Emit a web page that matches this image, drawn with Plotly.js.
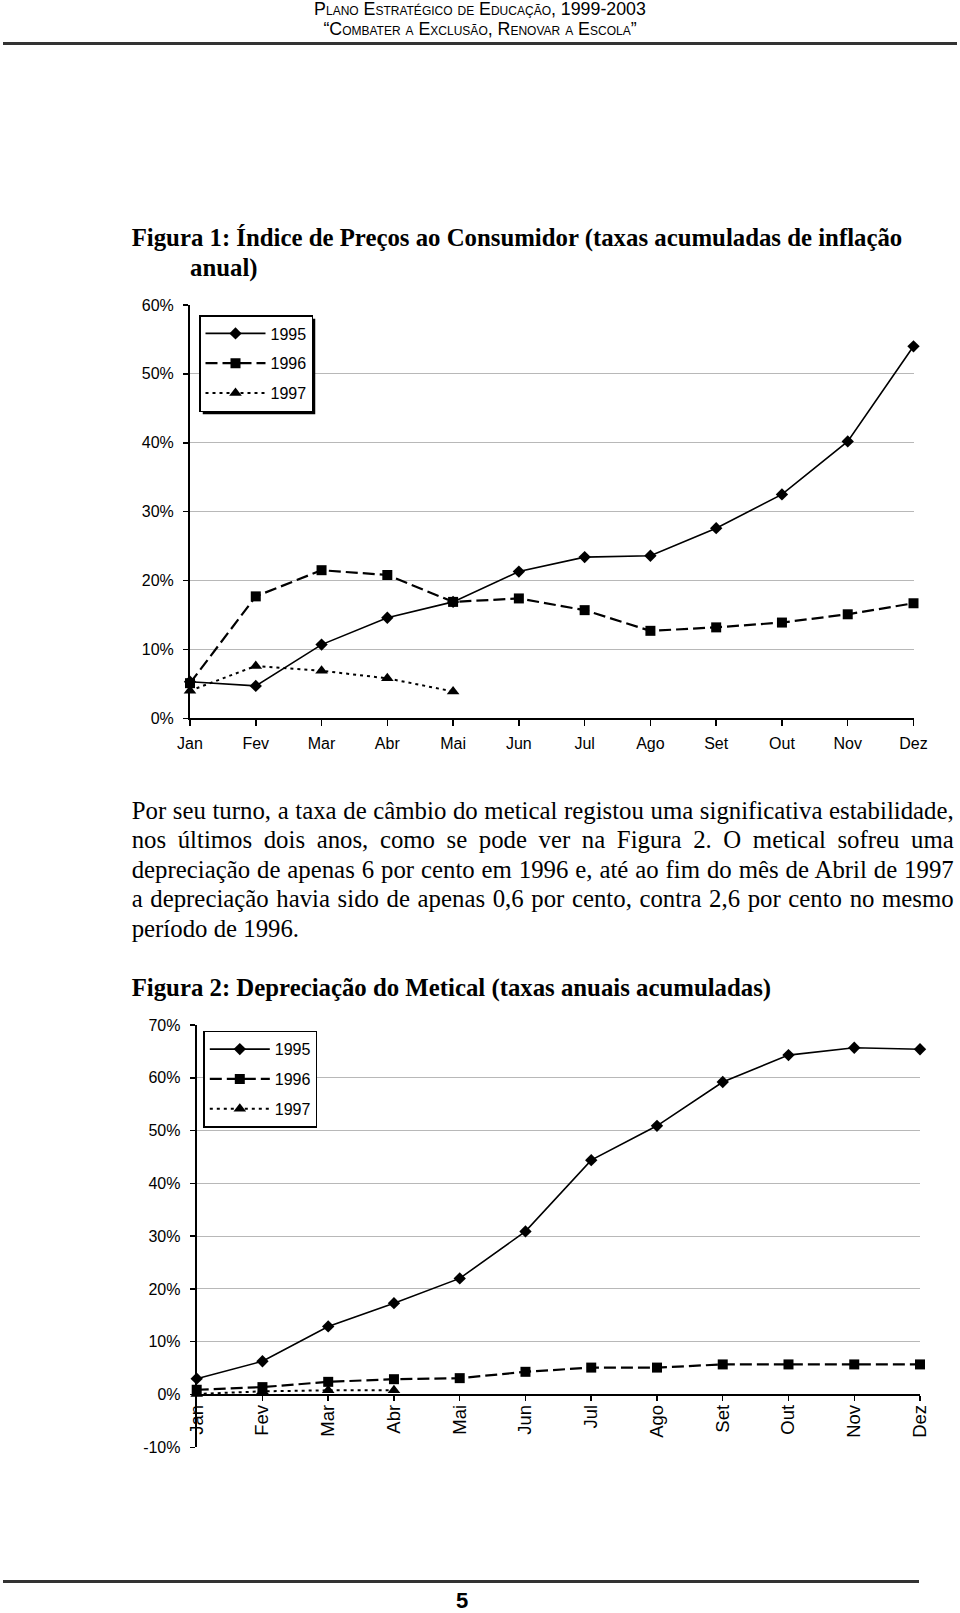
<!DOCTYPE html>
<html>
<head>
<meta charset="utf-8">
<script src="https://cdn.plot.ly/plotly-3.0.1.min.js"></script>
<style>
  html, body { margin:0; padding:0; background:#fff; }
  body { width:960px; height:1613px; position:relative; overflow:hidden; }
  #chart { position:absolute; left:0; top:0; width:960px; height:1613px; }
  .txt { position:absolute; color:#000; white-space:nowrap; }
  .hdr { font-family:"Liberation Sans", Arial, sans-serif; font-variant:small-caps; font-size:17.8px; left:0; width:960px; text-align:center; line-height:19.5px; }
  .serif { font-family:"Liberation Serif", "Times New Roman", serif; font-size:24.8px; line-height:29.6px; }
  .ttl { font-weight:bold; }
  .pline { left:131.7px; width:822px; text-align:justify; text-align-last:justify; white-space:normal; }
  .rule { position:absolute; background:#333; height:2.5px; }
</style>
</head>
<body>
<div id="chart"></div>

<div class="txt hdr" style="top:0px;">Plano Estratégico de Educação, 1999-2003<br>“Combater a Exclusão, Renovar a Escola”</div>
<div class="rule" style="left:3px; width:954px; top:42px;"></div>

<div class="txt serif ttl" style="left:131.7px; top:222.8px;">Figura 1: Índice de Preços ao Consumidor (taxas acumuladas de inflação</div>
<div class="txt serif ttl" style="left:190px; top:252.7px;">anual)</div>

<div class="txt serif pline" style="top:795.9px;">Por seu turno, a taxa de câmbio do metical registou uma significativa estabilidade,</div>
<div class="txt serif pline" style="top:824.7px;">nos últimos dois anos, como se pode ver na Figura 2. O metical sofreu uma</div>
<div class="txt serif pline" style="top:854.5px;">depreciação de apenas 6 por cento em 1996 e, até ao fim do mês de Abril de 1997</div>
<div class="txt serif pline" style="top:884.4px;">a depreciação havia sido de apenas 0,6 por cento, contra 2,6 por cento no mesmo</div>
<div class="txt serif" style="left:131.7px; top:914.2px;">período de 1996.</div>

<div class="txt serif ttl" style="left:131.7px; top:972.9px;">Figura 2: Depreciação do Metical (taxas anuais acumuladas)</div>

<div class="rule" style="left:3px; width:916px; top:1580px;"></div>
<div class="txt" style="left:442px; width:40px; text-align:center; top:1589px; font-family:'Liberation Sans Narrow','Liberation Sans',Arial,sans-serif; font-weight:bold; font-size:22px; line-height:24px;">5</div>

<script>
// ---- Data ----
const months = ["Jan","Fev","Mar","Abr","Mai","Jun","Jul","Ago","Set","Out","Nov","Dez"];
const seriesNames = ["1995","1996","1997"];

// Figura 1: Índice de Preços ao Consumidor (%)
const ipc1995 = [5.3, 4.7, 10.7, 14.6, 16.9, 21.3, 23.4, 23.6, 27.6, 32.5, 40.2, 54.0];
const ipc1996 = [5.1, 17.7, 21.5, 20.8, 16.9, 17.4, 15.7, 12.7, 13.2, 13.9, 15.1, 16.7];
const ipc1997 = [4.0, 7.6, 6.9, 5.8, 3.9];
const ipcTicks = [0, 10, 20, 30, 40, 50, 60];
const ipcTickText = ["0%", "10%", "20%", "30%", "40%", "50%", "60%"];

// Figura 2: Depreciação do Metical (%)
const dep1995 = [3.0, 6.3, 12.9, 17.3, 22.0, 30.9, 44.4, 50.9, 59.2, 64.3, 65.7, 65.4];
const dep1996 = [0.9, 1.4, 2.4, 2.9, 3.1, 4.3, 5.1, 5.1, 5.7, 5.7, 5.7, 5.7];
const dep1997 = [0.1, 0.6, 0.8, 0.8];
const depTicks = [-10, 0, 10, 20, 30, 40, 50, 60, 70];
const depTickText = ["-10%", "0%", "10%", "20%", "30%", "40%", "50%", "60%", "70%"];

// ---- Layout helpers ----
const W = 960, H = 1613;
const py = p => 1 - p / H;   // pixel row -> paper fraction
const px = p => p / W;

const font = { family: "Liberation Sans, Arial, sans-serif", size: 16, color: "#000" };
const styles = [
  { line: { color: "#000", width: 1.6, dash: "solid" }, marker: { symbol: "diamond", size: 9.5, color: "#000" } },
  { line: { color: "#000", width: 2.2, dash: "12px,5px" }, marker: { symbol: "square", size: 10, color: "#000" } },
  { line: { color: "#000", width: 2, dash: "3px,4px" }, marker: { symbol: "triangle-up", size: 11, color: "#000" } }
];

function mk(vals, i, xa, ya, leg) {
  return {
    x: months.slice(0, vals.length), y: vals, name: seriesNames[i],
    type: "scatter", mode: "lines+markers", xaxis: xa, yaxis: ya,
    line: styles[i].line, marker: styles[i].marker, cliponaxis: false,
    legend: leg, legendgroup: leg + i, hoverinfo: "skip"
  };
}

const data = [
  mk(ipc1995, 0, "x", "y", "legend"),
  mk(ipc1996, 1, "x", "y", "legend"),
  mk(ipc1997, 2, "x", "y", "legend"),
  mk(dep1995, 0, "x2", "y2", "legend2"),
  mk(dep1996, 1, "x2", "y2", "legend2"),
  mk(dep1997, 2, "x2", "y2", "legend2")
];

const y1dom = [py(718.3), py(305)];
const y2dom = [py(1447.3), py(1025)];
const y2range = [-10, 70];
const zeroPos2 = y2dom[0] + (y2dom[1] - y2dom[0]) * (0 - y2range[0]) / (y2range[1] - y2range[0]);

const baseX = {
  type: "category", categoryorder: "array", categoryarray: months, range: [0, 11],
  showline: true, linecolor: "#000", linewidth: 2, showgrid: false, zeroline: false,
  ticks: "outside", ticklen: 6, tickwidth: 1.5, tickcolor: "#000", tickfont: font, fixedrange: true
};
const baseY = {
  showline: true, linecolor: "#000", linewidth: 2, showgrid: true, gridcolor: "#b8b8b8", gridwidth: 1,
  zeroline: false, ticks: "outside", ticklen: 5, tickwidth: 1.5, tickcolor: "#000",
  tickmode: "array", tickfont: font, fixedrange: true
};
const legBase = {
  bgcolor: "#fff", bordercolor: "#000", borderwidth: 1.5, font: font,
  xanchor: "left", yanchor: "top", tracegroupgap: 6, itemwidth: 60,
  traceorder: "grouped", itemsizing: "trace"
};

const layout = {
  width: W, height: H, margin: { l: 0, r: 0, t: 0, b: 0 },
  paper_bgcolor: "rgba(0,0,0,0)", plot_bgcolor: "rgba(0,0,0,0)",
  font: font, showlegend: true, hovermode: false,
  xaxis: Object.assign({}, baseX, { domain: [px(190), px(913.5)], anchor: "y", ticklabelstandoff: 3 }),
  yaxis: Object.assign({}, baseY, { domain: y1dom, range: [0, 60], anchor: "x", ticklabelstandoff: 6,
                                    tickvals: ipcTicks, ticktext: ipcTickText }),
  xaxis2: Object.assign({}, baseX, { domain: [px(196.7), px(920)], anchor: "free", position: zeroPos2, tickangle: -90,
                                     ticklen: 5, ticklabelstandoff: -3, tickfont: Object.assign({}, font, { size: 18.5 }) }),
  yaxis2: Object.assign({}, baseY, { domain: y2dom, range: y2range, anchor: "x2", ticklabelstandoff: 6,
                                     tickvals: depTicks, ticktext: depTickText }),
  legend: Object.assign({}, legBase, { x: px(199), y: py(315) }),
  legend2: Object.assign({}, legBase, { x: px(203.3), y: py(1030.7) })
};

Plotly.newPlot("chart", data, layout, { staticPlot: true, displayModeBar: false }).then(gd => {
  const shapes = [];
  const host = gd.getBoundingClientRect();
  gd.querySelectorAll("g.legend rect.bg").forEach(r => {
    const b = r.getBoundingClientRect();
    const off = 3;
    shapes.push({
      type: "rect", xref: "paper", yref: "paper", layer: "above",
      x0: px(b.left - host.left + off), x1: px(b.right - host.left + off),
      y0: py(b.bottom - host.top + off), y1: py(b.top - host.top + off),
      fillcolor: "#000", line: { width: 0 }
    });
  });
  return Plotly.relayout(gd, { shapes: shapes });
});
</script>
</body>
</html>
